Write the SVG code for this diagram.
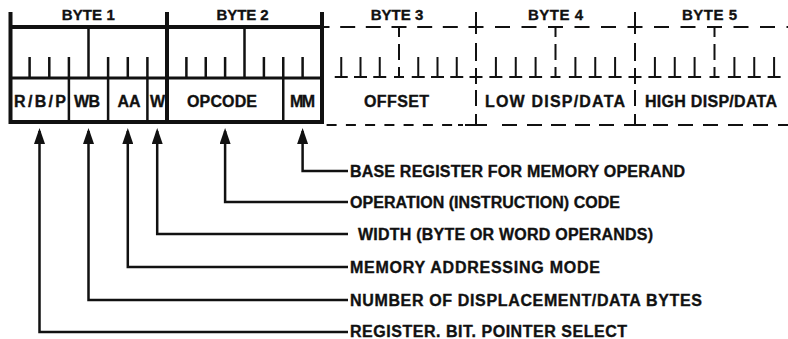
<svg xmlns="http://www.w3.org/2000/svg" width="788" height="339" viewBox="0 0 788 339">
<defs>
<style>
.t{font-family:"Liberation Sans",Arial,Helvetica,sans-serif;font-weight:bold;fill:#111;stroke:#111;stroke-width:0.35}
.hd{font-size:15px;text-anchor:middle}
.fl{font-size:16px;text-anchor:middle}
.lb{font-size:16px}
.thick{stroke:#111;stroke-width:4;fill:none}
.med{stroke:#111;stroke-width:3;fill:none}
.thin{stroke:#111;stroke-width:2.5;fill:none}
.dash{stroke:#111;stroke-width:2;fill:none}
</style>
<marker id="ah" markerUnits="userSpaceOnUse" viewBox="0 0 16 11" markerWidth="16" markerHeight="11" refX="13" refY="5.5" orient="auto">
<path d="M0,0 L16,5.5 L0,11 z" fill="#111"/>
</marker>
</defs>
<rect width="788" height="339" fill="#fff"/>

<g id="byte1">
<path class="thick" d="M10.5,12V124 M167,12V124 M8.5,27H167 M8.5,122H167"/>
<path class="med" d="M10.5,78H167"/>
<path class="thin" d="M88.5,27V78 M29.6,57V78 M49.3,57V78 M68.9,57V78 M108.1,57V78 M127.8,57V78 M147.4,57V78 M68.9,78V122 M108.1,78V122 M147.4,78V122"/>
<text class="t hd" x="88.3" y="19.5" textLength="53" lengthAdjust="spacing">BYTE 1</text>
<text class="t fl" x="40" y="107" textLength="52" lengthAdjust="spacing">R/B/P</text>
<text class="t fl" x="87" y="107" textLength="26" lengthAdjust="spacing">WB</text>
<text class="t fl" x="129" y="107">AA</text>
<text class="t fl" x="157.5" y="107">W</text>
</g>

<g id="byte2">
<path class="thick" d="M322,12V124 M167,27H324 M167,122H324"/>
<path class="med" d="M167,78H322"/>
<path class="thin" d="M244.5,27V78 M186.4,57V78 M205.75,57V78 M225.1,57V78 M263.9,57V78 M283.25,57V78 M302.6,57V78 M283.25,78V122"/>
<text class="t hd" x="242.5" y="19.5" textLength="52" lengthAdjust="spacing">BYTE 2</text>
<text class="t fl" x="222" y="107" textLength="70" lengthAdjust="spacing">OPCODE</text>
<text class="t fl" x="302.5" y="107" textLength="25" lengthAdjust="spacing">MM</text>
</g>

<g id="byte3">
<path class="dash" d="M324,27H329.5 M340.2,27H355.2 M365.8,27H380.8 M391.5,27H406.5 M417.2,27H432.2 M442.8,27H457.8 M468.5,27H483.5
M341.25,57V77 M360.5,57V77 M379.75,57V77 M418.25,57V77 M437.5,57V77 M456.75,57V77
M334.75,77H347.75 M354,77H367 M373.25,77H386.25 M411.75,77H424.75 M431,77H444 M450.25,77H463.25
M399,27V37 M399,44V60 M399,67V77 M394,77H404
M476,12V34 M476,43V61 M476,68V84 M476,90V106 M476,114V125 M469.5,77H482.5 M465,125H487
M326.6,125H336.6 M345.9,125H355.9 M365.1,125H375.1 M384.4,125H394.4 M403.6,125H413.6 M422.9,125H432.9 M442.1,125H452.1 M458,125H463"/>
<text class="t hd" x="397" y="19.5" textLength="52.5" lengthAdjust="spacing">BYTE 3</text>
<text class="t fl" x="396.5" y="107" textLength="65" lengthAdjust="spacing">OFFSET</text>
</g>

<g id="byte4">
<path class="dash" d="M495,27H510 M521.5,27H536.5 M548,27H563 M574.5,27H589.5 M601,27H616 M627.5,27H642.5
M495.9,57V77 M515.75,57V77 M535.6,57V77 M575.4,57V77 M595.25,57V77 M615.1,57V77
M489.4,77H502.4 M509.25,77H522.25 M529.1,77H542.1 M568.9,77H581.9 M588.75,77H601.75 M608.6,77H621.6
M555.5,27V37 M555.5,44V60 M555.5,67V77 M550.5,77H560.5
M635,12V34 M635,43V61 M635,68V84 M635,90V106 M635,114V125 M628.5,77H641.5 M624,125H646
M502,125H517 M527,125H542 M551,125H566 M575,125H590 M599,125H614"/>
<text class="t hd" x="555.5" y="19.5" textLength="55" lengthAdjust="spacing">BYTE 4</text>
<text class="t fl" x="555" y="107" textLength="140" lengthAdjust="spacing">LOW DISP/DATA</text>
</g>

<g id="byte5">
<path class="dash" d="M654,27H669 M680.5,27H695.5 M707,27H722 M733.5,27H748.5 M760,27H775 M786.5,27H788
M654.9,57V77 M674.75,57V77 M694.6,57V77 M734.4,57V77 M754.25,57V77 M774.1,57V77
M648.4,77H661.4 M668.25,77H681.25 M688.1,77H701.1 M727.9,77H740.9 M747.75,77H760.75 M767.6,77H780.6
M714.5,27V37 M714.5,44V60 M714.5,67V77 M709.5,77H719.5
M653,125H668 M678,125H693 M703,125H718 M728,125H743 M753,125H768 M778,125H788"/>
<text class="t hd" x="709.5" y="19.5" textLength="55" lengthAdjust="spacing">BYTE 5</text>
<text class="t fl" x="711" y="107" textLength="132" lengthAdjust="spacing">HIGH DISP/DATA</text>
</g>

<g id="connectors" class="thin">
<path d="M348,171H302.6V131" marker-end="url(#ah)"/>
<path d="M348,202H225.1V131" marker-end="url(#ah)"/>
<path d="M348,234H157.2V131" marker-end="url(#ah)"/>
<path d="M348,267H127.8V131" marker-end="url(#ah)"/>
<path d="M348,300H88.5V131" marker-end="url(#ah)"/>
<path d="M348,332H39.5V131" marker-end="url(#ah)"/>
</g>

<g id="label-mm"><text class="t lb" x="350" y="176.5" textLength="335" lengthAdjust="spacing">BASE REGISTER FOR MEMORY OPERAND</text></g>
<g id="label-opcode"><text class="t lb" x="350" y="207.5" textLength="270" lengthAdjust="spacing">OPERATION (INSTRUCTION) CODE</text></g>
<g id="label-w"><text class="t lb" x="358" y="239.5" textLength="295" lengthAdjust="spacing">WIDTH (BYTE OR WORD OPERANDS)</text></g>
<g id="label-aa"><text class="t lb" x="350" y="272.5" textLength="250" lengthAdjust="spacing">MEMORY ADDRESSING MODE</text></g>
<g id="label-wb"><text class="t lb" x="350" y="305.5" textLength="352" lengthAdjust="spacing">NUMBER OF DISPLACEMENT/DATA BYTES</text></g>
<g id="label-rbp"><text class="t lb" x="350" y="337" textLength="277" lengthAdjust="spacing">REGISTER. BIT. POINTER SELECT</text></g>
</svg>
